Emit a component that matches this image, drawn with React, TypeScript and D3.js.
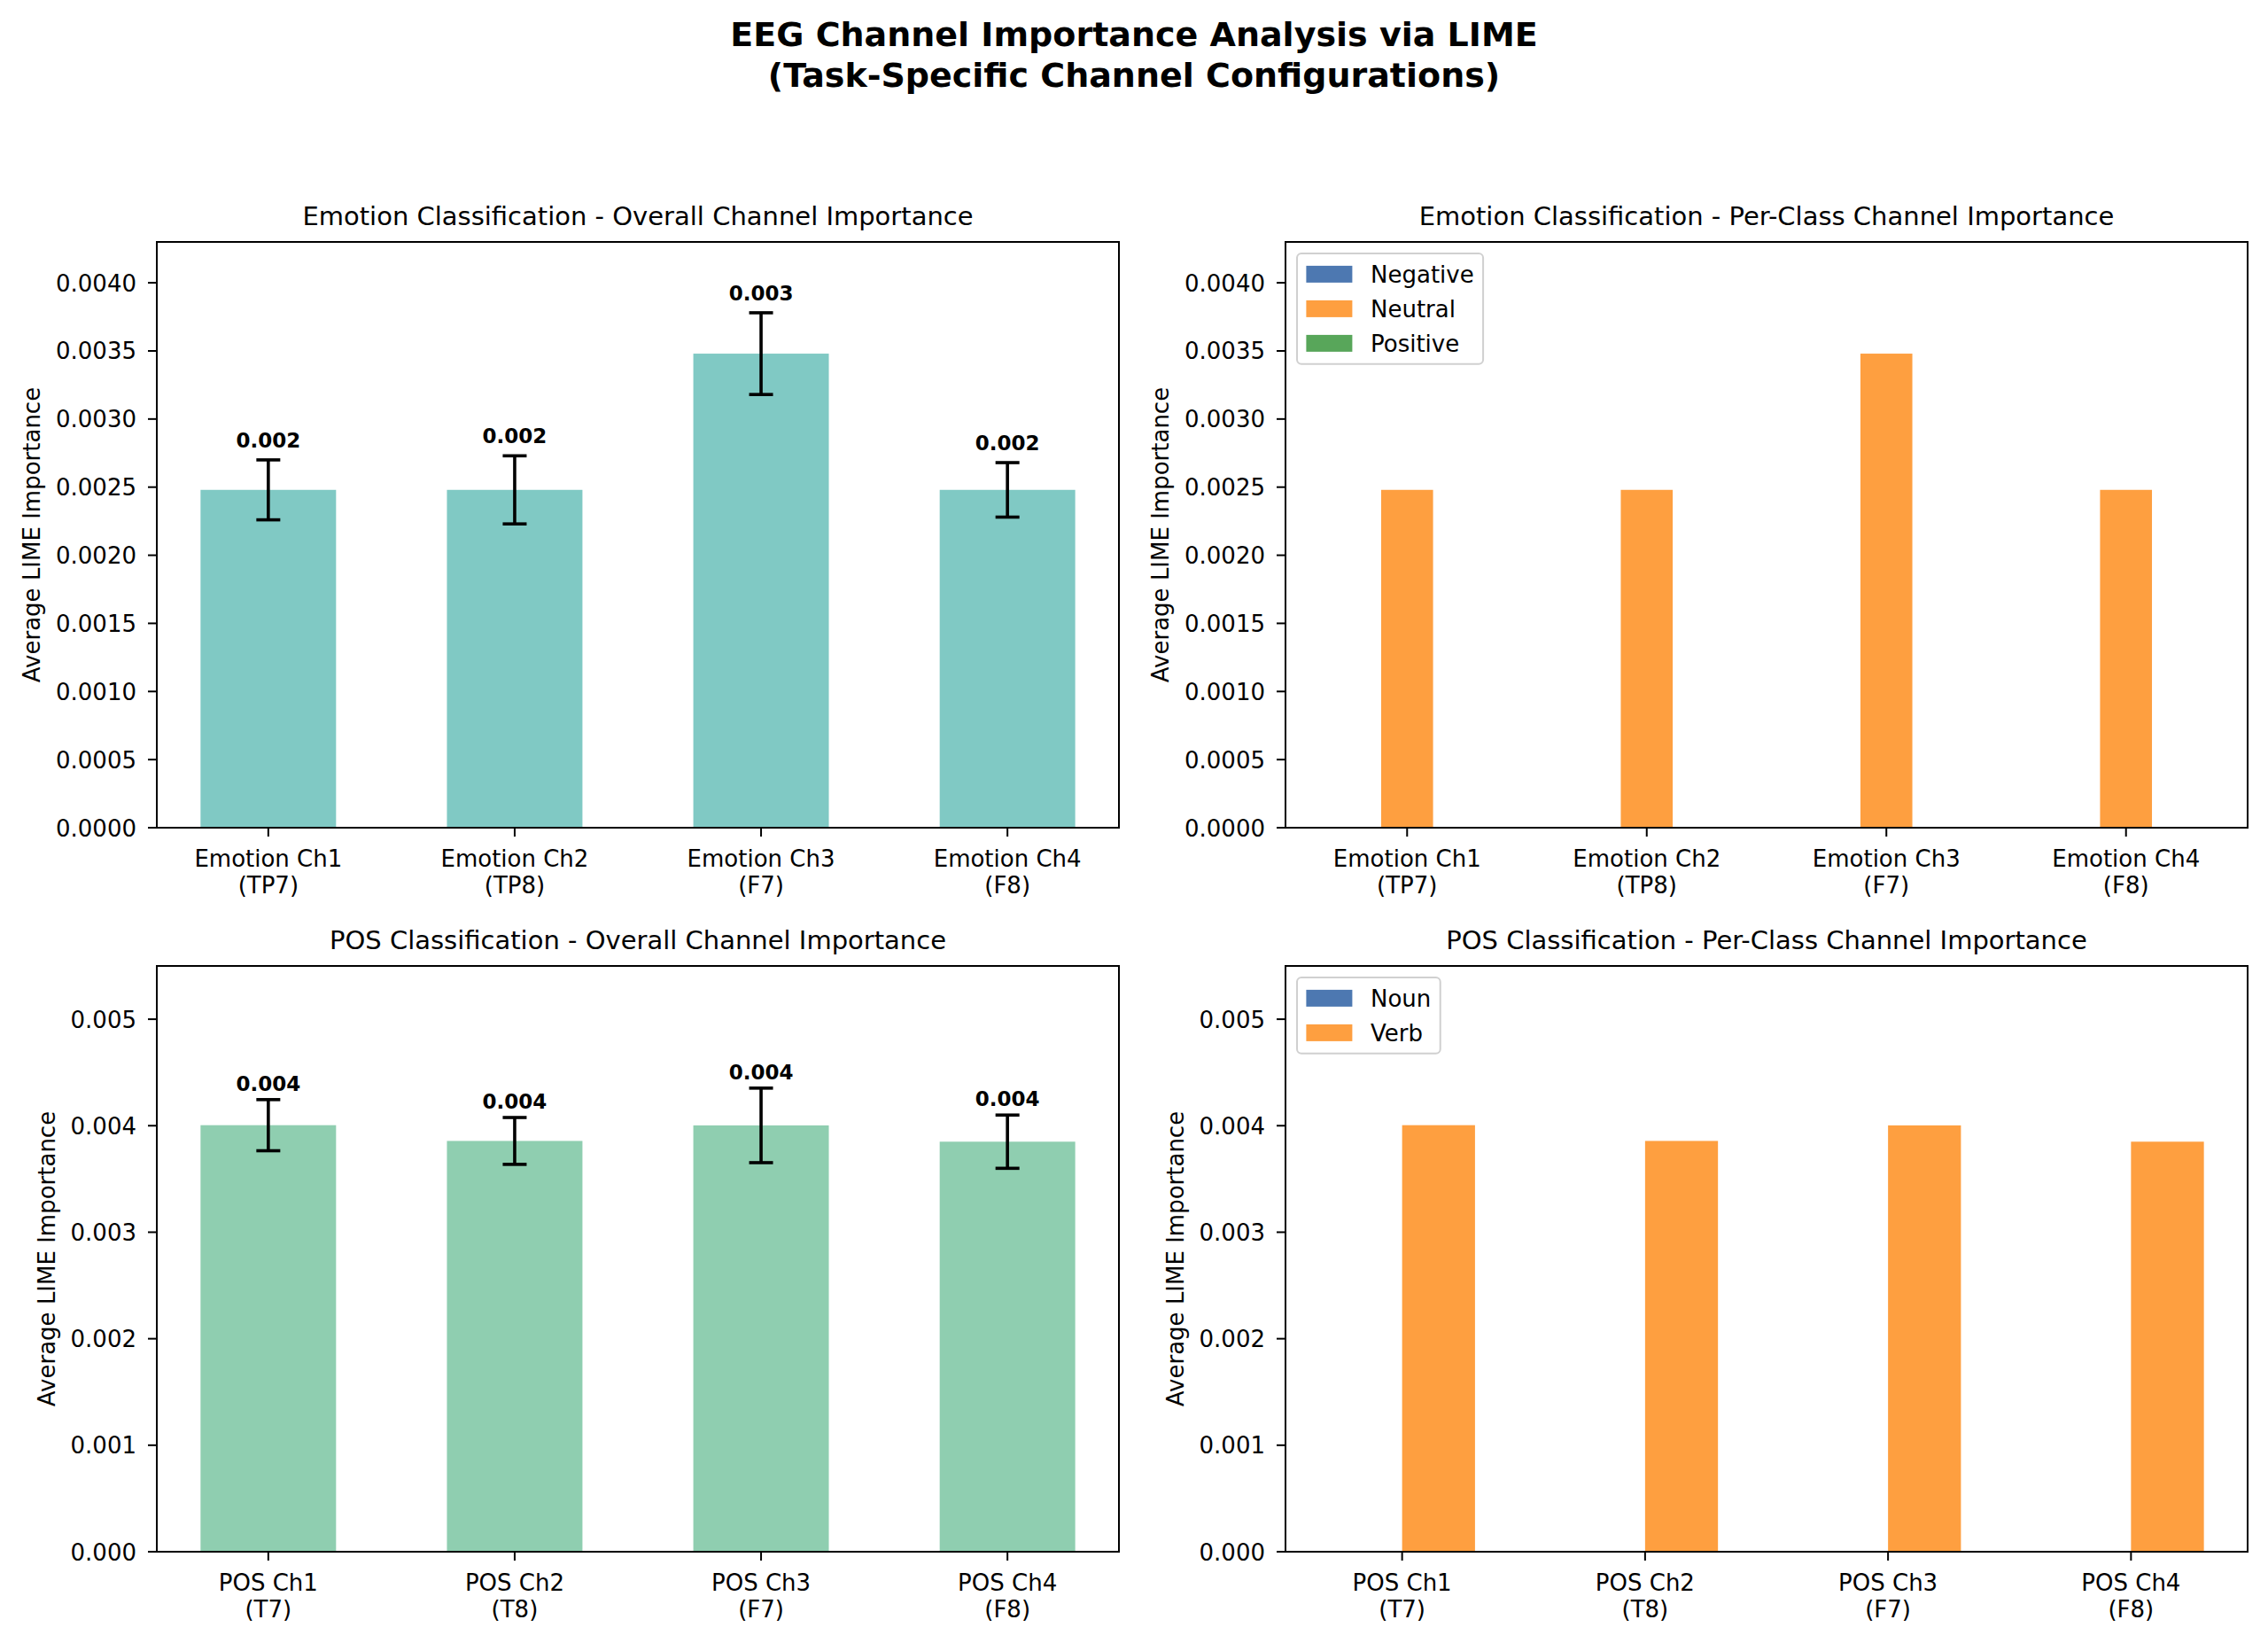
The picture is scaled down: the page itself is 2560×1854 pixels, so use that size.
import { useEffect, useRef } from "react";
import * as d3 from "d3";

// --- data ---
const EMO_CHANNELS = ["Emotion Ch1", "Emotion Ch2", "Emotion Ch3", "Emotion Ch4"];
const EMO_ELECTRODES = ["TP7", "TP8", "F7", "F8"];
const EMO_MEAN = [0.00248, 0.00248, 0.00348, 0.00248];
const EMO_STD = [0.00022, 0.00025, 0.0003, 0.0002];
const EMO_CLASSES = ["Negative", "Neutral", "Positive"];
const EMO_PER_CLASS = [
  [0, 0, 0, 0],
  [0.00248, 0.00248, 0.00348, 0.00248],
  [0, 0, 0, 0],
];
const EMO_TICKS = [0, 0.0005, 0.001, 0.0015, 0.002, 0.0025, 0.003, 0.0035, 0.004];
const EMO_YMAX = 0.0043;

const POS_CHANNELS = ["POS Ch1", "POS Ch2", "POS Ch3", "POS Ch4"];
const POS_ELECTRODES = ["T7", "T8", "F7", "F8"];
const POS_MEAN = [0.004005, 0.003857, 0.004003, 0.00385];
const POS_STD = [0.00024, 0.00022, 0.00035, 0.00025];
const POS_CLASSES = ["Noun", "Verb"];
const POS_PER_CLASS = [
  [0, 0, 0, 0],
  [0.004005, 0.003857, 0.004003, 0.00385],
];
const POS_TICKS = [0, 0.001, 0.002, 0.003, 0.004, 0.005];
const POS_YMAX = 0.0055;

const CLASS_COLORS = ["#4d78b1", "#fe9f40", "#58a65a"];

const FONT = "'DejaVu Sans', sans-serif";
const W = 2560;
const H = 1854;
const COLS = [177, 1451];
const ROWS = [273, 1090];
const AW = 1086;
const AH = 661;

type Overall = {
  title: string;
  channels: string[];
  electrodes: string[];
  mean: number[];
  std: number[];
  ymax: number;
  ticks: number[];
  digits: number;
  color: string;
  labelPad: number;
};

type PerClass = {
  title: string;
  channels: string[];
  electrodes: string[];
  classes: string[];
  values: number[][];
  width: number;
  ymax: number;
  ticks: number[];
  digits: number;
};

type G = d3.Selection<SVGGElement, unknown, null, undefined>;

function frame(g: G, title: string, channels: string[], electrodes: string[], x: (i: number) => number, y: d3.ScaleLinear<number, number>, ticks: number[], digits: number) {
  // y ticks
  let maxW = 0;
  ticks.forEach((t) => {
    const py = y(t);
    g.append("line").attr("x1", -10).attr("x2", 0).attr("y1", py).attr("y2", py).attr("stroke", "#000").attr("stroke-width", 2);
    const txt = g
      .append("text")
      .attr("x", -23)
      .attr("y", py + 9.5)
      .attr("text-anchor", "end")
      .attr("font-size", 26)
      .text(t.toFixed(digits));
    maxW = Math.max(maxW, (txt.node() as SVGTextElement).getComputedTextLength());
  });
  // x ticks, two-line labels
  channels.forEach((c, i) => {
    const px = x(i);
    g.append("line").attr("x1", px).attr("x2", px).attr("y1", AH).attr("y2", AH + 10).attr("stroke", "#000").attr("stroke-width", 2);
    g.append("text").attr("x", px).attr("y", AH + 44).attr("text-anchor", "middle").attr("font-size", 26).text(c);
    g.append("text").attr("x", px).attr("y", AH + 74).attr("text-anchor", "middle").attr("font-size", 26).text(`(${electrodes[i]})`);
  });
  // spines
  g.append("rect").attr("width", AW).attr("height", AH).attr("fill", "none").attr("stroke", "#000").attr("stroke-width", 2);
  // labels
  const lx = -23 - maxW - 18;
  g.append("text")
    .attr("transform", `translate(${lx},${AH / 2}) rotate(-90)`)
    .attr("text-anchor", "middle")
    .attr("font-size", 26)
    .text("Average LIME Importance");
  g.append("text").attr("x", AW / 2).attr("y", -19).attr("text-anchor", "middle").attr("font-size", 29).text(title);
}

function drawOverall(g: G, p: Overall) {
  const n = p.channels.length;
  const bw = 0.55;
  const pad = (n - 1 + bw) * 0.05;
  const x = d3.scaleLinear().domain([-bw / 2 - pad, n - 1 + bw / 2 + pad]).range([0, AW]);
  const y = d3.scaleLinear().domain([0, p.ymax]).range([AH, 0]);
  const unit = x(1) - x(0);

  p.mean.forEach((m, i) => {
    g.append("rect")
      .attr("x", x(i - bw / 2))
      .attr("y", y(m))
      .attr("width", bw * unit)
      .attr("height", AH - y(m))
      .attr("fill", p.color);
  });
  // error bars with caps, value label above
  p.mean.forEach((m, i) => {
    const cx = x(i);
    const top = y(m + p.std[i]);
    const bot = y(m - p.std[i]);
    const eb = g.append("g").attr("stroke", "#000").attr("stroke-width", 3.6);
    eb.append("line").attr("x1", cx).attr("x2", cx).attr("y1", top).attr("y2", bot);
    eb.append("line").attr("x1", cx - 13.5).attr("x2", cx + 13.5).attr("y1", top).attr("y2", top);
    eb.append("line").attr("x1", cx - 13.5).attr("x2", cx + 13.5).attr("y1", bot).attr("y2", bot);
    g.append("text")
      .attr("x", cx)
      .attr("y", top - p.labelPad)
      .attr("text-anchor", "middle")
      .attr("font-size", 23)
      .attr("font-weight", "bold")
      .text(m.toFixed(3));
  });
  frame(g, p.title, p.channels, p.electrodes, x, y, p.ticks, p.digits);
}

function drawPerClass(g: G, p: PerClass) {
  const n = p.channels.length;
  const k = p.classes.length;
  const w = p.width;
  const lo = -w * (k / 2);
  const hi = n - 1 + w * (k / 2);
  const pad = (hi - lo) * 0.05;
  const x = d3.scaleLinear().domain([lo - pad, hi + pad]).range([0, AW]);
  const y = d3.scaleLinear().domain([0, p.ymax]).range([AH, 0]);
  const unit = x(1) - x(0);

  p.values.forEach((vals, c) => {
    const off = (c - (k - 1) / 2) * w;
    vals.forEach((v, i) => {
      g.append("rect")
        .attr("x", x(i + off - w / 2))
        .attr("y", y(v))
        .attr("width", w * unit)
        .attr("height", AH - y(v))
        .attr("fill", CLASS_COLORS[c]);
    });
  });
  frame(g, p.title, p.channels, p.electrodes, x, y, p.ticks, p.digits);

  // legend, upper left
  const lg = g.append("g").attr("transform", "translate(13,13)");
  const box = lg.append("rect").attr("rx", 5).attr("fill", "#fff").attr("fill-opacity", 0.8).attr("stroke", "#d0d0d0").attr("stroke-width", 2);
  let tw = 0;
  p.classes.forEach((name, c) => {
    const cy = 10.4 + 13 + c * 39;
    lg.append("rect").attr("x", 10.4).attr("y", cy - 9.5).attr("width", 52).attr("height", 19).attr("fill", CLASS_COLORS[c]);
    const t = lg.append("text").attr("x", 83).attr("y", cy + 9.5).attr("font-size", 26).text(name);
    tw = Math.max(tw, (t.node() as SVGTextElement).getComputedTextLength());
  });
  box.attr("width", 83 + tw + 10.4).attr("height", 20.8 + k * 26 + (k - 1) * 13);
}

function Chart() {
  const ref = useRef<SVGSVGElement | null>(null);

  useEffect(() => {
    const svg = d3.select(ref.current);
    svg.selectAll("*").remove();
    svg.append("rect").attr("width", W).attr("height", H).attr("fill", "#fff");

    const root = svg.append("g").attr("font-family", FONT).attr("fill", "#000");
    root.append("text").attr("x", W / 2).attr("y", 51.5).attr("text-anchor", "middle").attr("font-size", 38).attr("font-weight", "bold").text("EEG Channel Importance Analysis via LIME");
    root.append("text").attr("x", W / 2).attr("y", 97.5).attr("text-anchor", "middle").attr("font-size", 38).attr("font-weight", "bold").text("(Task-Specific Channel Configurations)");

    const panel = (c: number, r: number) => root.append("g").attr("transform", `translate(${COLS[c]},${ROWS[r]})`) as G;

    drawOverall(panel(0, 0), {
      title: "Emotion Classification - Overall Channel Importance",
      channels: EMO_CHANNELS,
      electrodes: EMO_ELECTRODES,
      mean: EMO_MEAN,
      std: EMO_STD,
      ymax: EMO_YMAX,
      ticks: EMO_TICKS,
      digits: 4,
      color: "#80c9c4",
      labelPad: 14,
    });
    drawPerClass(panel(1, 0), {
      title: "Emotion Classification - Per-Class Channel Importance",
      channels: EMO_CHANNELS,
      electrodes: EMO_ELECTRODES,
      classes: EMO_CLASSES,
      values: EMO_PER_CLASS,
      width: 0.65 / 3,
      ymax: EMO_YMAX,
      ticks: EMO_TICKS,
      digits: 4,
    });
    drawOverall(panel(0, 1), {
      title: "POS Classification - Overall Channel Importance",
      channels: POS_CHANNELS,
      electrodes: POS_ELECTRODES,
      mean: POS_MEAN,
      std: POS_STD,
      ymax: POS_YMAX,
      ticks: POS_TICKS,
      digits: 3,
      color: "#8fceb0",
      labelPad: 10,
    });
    drawPerClass(panel(1, 1), {
      title: "POS Classification - Per-Class Channel Importance",
      channels: POS_CHANNELS,
      electrodes: POS_ELECTRODES,
      classes: POS_CLASSES,
      values: POS_PER_CLASS,
      width: 0.3,
      ymax: POS_YMAX,
      ticks: POS_TICKS,
      digits: 3,
    });
  }, []);

  return <svg ref={ref} width={W} height={H} style={{ position: "absolute", left: 0, top: 0 }} />;
}

export default function App() {
  return <Chart />;
}
